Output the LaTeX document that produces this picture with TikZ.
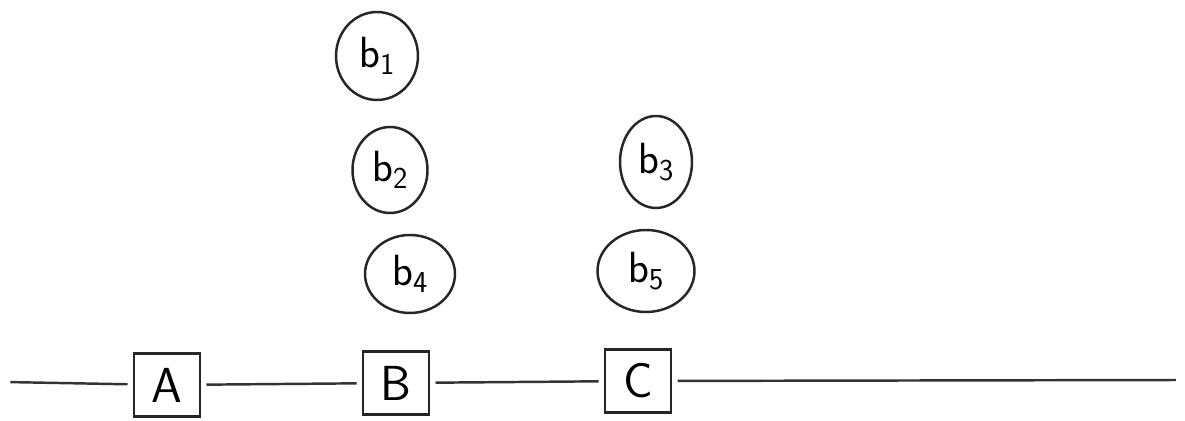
\documentclass[tikz,border=0pt]{standalone}
\usetikzlibrary{shapes.geometric}
\begin{document}
\begin{tikzpicture}[x=0.02cm,y=-0.02cm,
  ink/.style={line width=1.4pt,draw=black!85},
  stat/.style={ink,rectangle,minimum width=1.32cm,minimum height=1.26cm,inner sep=0pt,font=\fontsize{28}{28}\selectfont\sffamily},
  ball/.style={ink,ellipse,inner sep=0pt,font=\fontsize{26}{26}\selectfont},
  wire/.style={line width=1.4pt,draw=black!80,shorten <=3pt,shorten >=3pt}]
\useasboundingbox (0,0) rectangle (1185,421);
% stations on the line
\node[stat] (A) at (167,385) {A};
\node[stat] (B) at (396,383) {B};
\node[stat] (C) at (638,381) {C};
\coordinate (L) at (5,382);
\coordinate (R) at (1181,380);
\draw[wire] (L) -- (A);
\draw[wire] (A) -- (B);
\draw[wire] (B) -- (C);
\draw[wire] (C) -- (R);
% balls above the stations
\node[ball,minimum width=1.64cm,minimum height=1.76cm] (b1) at (377,56) {$\mathsf{b}_{\mathsf{1}}$};
\node[ball,minimum width=1.50cm,minimum height=1.72cm] (b2) at (390,170) {$\mathsf{b}_{\mathsf{2}}$};
\node[ball,minimum width=1.44cm,minimum height=1.84cm] (b3) at (656,162) {$\mathsf{b}_{\mathsf{3}}$};
\node[ball,minimum width=1.80cm,minimum height=1.56cm] (b4) at (410,274) {$\mathsf{b}_{\mathsf{4}}$};
\node[ball,minimum width=1.94cm,minimum height=1.64cm] (b5) at (646,271) {$\mathsf{b}_{\mathsf{5}}$};
\end{tikzpicture}
\end{document}
